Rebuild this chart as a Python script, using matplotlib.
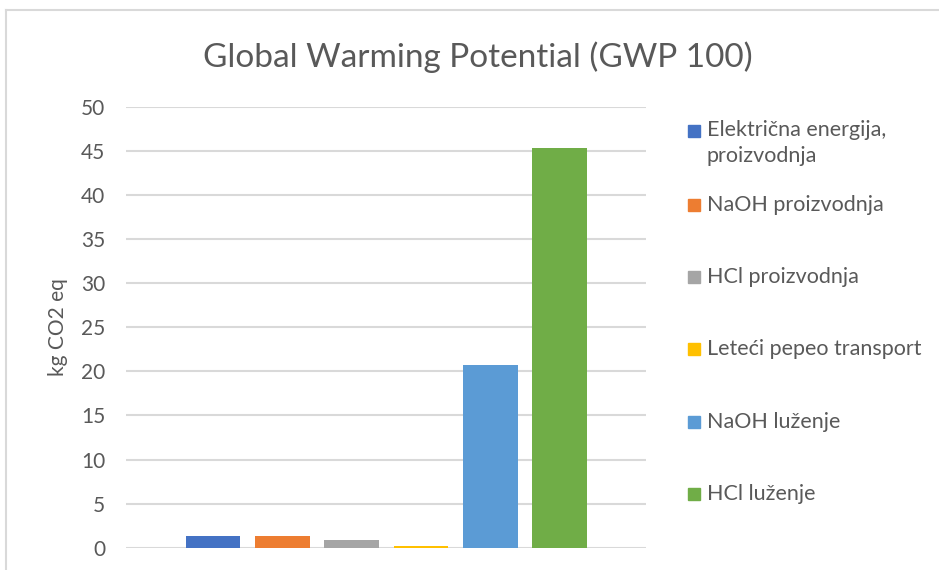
import matplotlib.pyplot as plt
from matplotlib.patches import Rectangle
from matplotlib.lines import Line2D

# Series (one bar each) and their values in kg CO2 eq
series = [
    "Električna energija,\nproizvodnja",
    "NaOH proizvodnja",
    "HCl proizvodnja",
    "Leteći pepeo transport",
    "NaOH luženje",
    "HCl luženje",
]
values = [1.33, 1.33, 0.84, 0.2, 20.7, 45.3]
colors = ["#4472C4", "#ED7D31", "#A5A5A5", "#FFC000", "#5B9BD5", "#70AD47"]
yticks = [0, 5, 10, 15, 20, 25, 30, 35, 40, 45, 50]

title = "Global Warming Potential (GWP 100)"
ylabel = "kg CO2 eq"

TXT = "#595959"
GRID = "#D9D9D9"
plt.rcParams["font.family"] = ["Lato", "DejaVu Sans"]

W, H = 939, 570
fig = plt.figure(figsize=(W / 100, H / 100), dpi=100)

def px(x, y):
    return x / W, 1 - y / H

# outer chart frame (top and left edges visible)
fig.add_artist(Line2D([6 / W, 1], [1 - 10 / H] * 2, color=GRID, lw=1.5))
fig.add_artist(Line2D([6 / W] * 2, [0, 1 - 10 / H], color=GRID, lw=1.5))

left, right, top, bottom = 126, 646, 106.7, 547.7
ax = fig.add_axes([left / W, 1 - bottom / H, (right - left) / W, (bottom - top) / H])

x = list(range(len(values)))
ax.bar(x, values, width=0.79, color=colors, zorder=3)
ax.set_xlim(-1.255, 6.245)
ax.set_ylim(0, 50)
ax.set_yticks(yticks)
ax.set_xticks([])
ax.yaxis.grid(True, color=GRID, lw=1.5, zorder=0)
for s in ax.spines.values():
    s.set_visible(False)
ax.tick_params(axis="y", length=0, pad=15, labelsize=15, labelcolor=TXT)
ax.set_ylabel(ylabel, fontsize=15, color=TXT, labelpad=9)

fig.text(*px(478, 57), title, ha="center", va="center", fontsize=24,
         color=TXT)

# legend drawn entry by entry
legend_y = [131, 205, 277, 349, 422, 494]
for lab, c, ly in zip(series, colors, legend_y):
    fig.add_artist(Rectangle(px(688, ly + 6), 12 / W, 12 / H, color=c,
                             transform=fig.transFigure))
    if "\n" in lab:
        fig.text(*px(707, ly - 11), lab, ha="left", va="top",
                 fontsize=15.5, color=TXT, linespacing=1.35)
    else:
        fig.text(*px(707, ly), lab, ha="left", va="center",
                 fontsize=15.5, color=TXT)

fig.savefig("out.png", dpi=100)
